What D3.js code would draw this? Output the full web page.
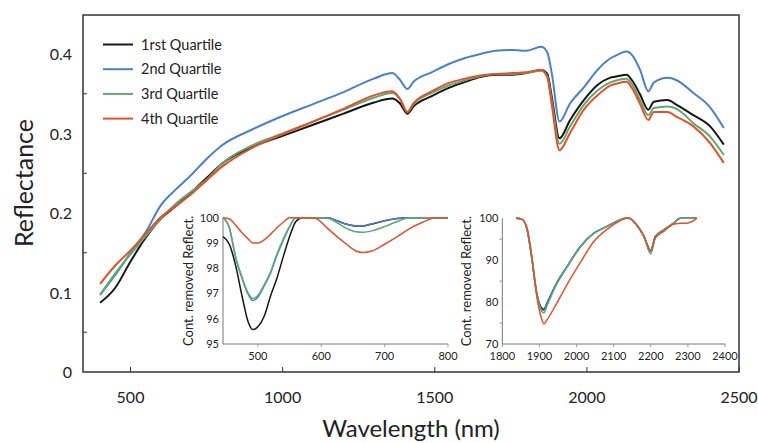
<!DOCTYPE html>
<html>
<head>
<script src="https://d3js.org/d3.v7.min.js"></script>
<style>
  body { margin: 0; background: #fff; }
  text { font-family: Lato, "Noto Sans", sans-serif; fill: #222; }
</style>
</head>
<body>
<script>
// ---- main spectra (reflectance vs wavelength) ----
var wavelengths = [400, 450, 500, 550, 600, 650, 700, 750, 800, 900, 1000, 1100, 1200, 1300, 1360, 1385, 1410, 1430, 1490, 1550, 1600, 1650, 1700, 1760, 1800, 1850, 1870, 1885, 1910, 1945, 1990, 2035, 2075, 2100, 2130, 2150, 2175, 2202, 2220, 2265, 2295, 2350, 2405, 2450];
var q1 = [0.087, 0.106, 0.139, 0.169, 0.193, 0.209, 0.226, 0.244, 0.262, 0.283, 0.297, 0.311, 0.325, 0.339, 0.344, 0.338, 0.325, 0.334, 0.347, 0.358, 0.365, 0.371, 0.374, 0.374, 0.376, 0.380, 0.375, 0.345, 0.294, 0.317, 0.342, 0.361, 0.370, 0.372, 0.374, 0.366, 0.349, 0.330, 0.340, 0.342, 0.336, 0.323, 0.309, 0.286];
var q2 = [0.097, 0.122, 0.150, 0.176, 0.210, 0.230, 0.248, 0.268, 0.285, 0.305, 0.322, 0.337, 0.352, 0.369, 0.376, 0.368, 0.356, 0.365, 0.377, 0.388, 0.395, 0.400, 0.404, 0.405, 0.404, 0.409, 0.402, 0.375, 0.315, 0.338, 0.358, 0.380, 0.394, 0.399, 0.403, 0.398, 0.380, 0.353, 0.364, 0.370, 0.367, 0.351, 0.333, 0.307];
var q3 = [0.097, 0.124, 0.148, 0.171, 0.193, 0.212, 0.227, 0.242, 0.262, 0.285, 0.300, 0.315, 0.330, 0.345, 0.351, 0.344, 0.327, 0.337, 0.351, 0.361, 0.367, 0.372, 0.375, 0.375, 0.376, 0.379, 0.372, 0.340, 0.287, 0.309, 0.336, 0.354, 0.364, 0.367, 0.369, 0.361, 0.342, 0.323, 0.332, 0.334, 0.331, 0.313, 0.296, 0.273];
var q4 = [0.111, 0.134, 0.153, 0.174, 0.195, 0.209, 0.224, 0.241, 0.258, 0.282, 0.299, 0.315, 0.331, 0.348, 0.353, 0.344, 0.327, 0.338, 0.353, 0.364, 0.369, 0.373, 0.375, 0.376, 0.377, 0.380, 0.371, 0.335, 0.279, 0.301, 0.330, 0.348, 0.360, 0.363, 0.365, 0.356, 0.337, 0.317, 0.327, 0.327, 0.321, 0.309, 0.288, 0.263];

var seriesNames = ["1rst Quartile", "2nd Quartile", "3rd Quartile", "4th Quartile"];
var colors = ["#151515", "#4a80c6", "#5fa874", "#e2512a"];
var xTicks = [500, 1000, 1500, 2000, 2500];
var yTicks = [0, 0.1, 0.2, 0.3, 0.4];

// ---- inset 1: visible range ----
var wl1 = [445, 455, 465, 475, 485, 492, 500, 510, 520, 530, 540, 550, 560, 570, 590, 610, 625, 640, 655, 665, 680, 700, 720, 740, 760, 780, 800];
var in1q1 = [99.25, 98.95, 98.1, 96.9, 95.85, 95.57, 95.68, 96.1, 96.9, 97.6, 98.45, 99.25, 99.85, 100, 100, 100, 99.88, 99.74, 99.67, 99.67, 99.75, 99.88, 99.97, 100, 100, 100, 100];
var in1q2 = [100, 99.6, 98.4, 97.6, 96.95, 96.72, 96.85, 97.3, 97.8, 98.5, 99.1, 99.64, 100, 100, 100, 100, 99.88, 99.74, 99.68, 99.68, 99.76, 99.88, 99.97, 100, 100, 100, 100];
var in1q3 = [100, 99.6, 98.45, 97.65, 97.0, 96.8, 96.92, 97.35, 97.85, 98.55, 99.15, 99.66, 100, 100, 100, 99.98, 99.8, 99.58, 99.44, 99.42, 99.48, 99.65, 99.85, 100, 100, 100, 100];
var in1q4 = [100, 99.95, 99.7, 99.4, 99.15, 99.0, 99.0, 99.12, 99.35, 99.6, 99.82, 100, 100, 100, 99.98, 99.58, 99.25, 98.95, 98.68, 98.62, 98.68, 98.95, 99.25, 99.58, 99.82, 100, 100];
var in1xTicks = [500, 600, 700, 800];
var in1yTicks = [95, 96, 97, 98, 99, 100];

// ---- inset 2: SWIR range ----
var wl2 = [1837, 1852, 1866, 1879, 1893, 1906, 1912, 1920, 1946, 1974, 2010, 2046, 2081, 2117, 2133, 2141, 2162, 2180, 2200, 2212, 2234, 2261, 2279, 2300, 2324];
var in2q1 = [100, 99.8, 97.6, 90.8, 82.1, 78.6, 78.3, 79.7, 84.5, 88.4, 93.2, 96.4, 98.0, 99.6, 100, 100, 98.4, 96.0, 92.3, 95.6, 97.2, 98.8, 100, 100, 100];
var in2q2 = [100, 99.8, 97.6, 90.8, 82.0, 78.2, 78.0, 79.5, 84.4, 88.4, 93.2, 96.4, 98.0, 99.6, 100, 100, 98.4, 96.0, 92.0, 95.5, 97.2, 98.8, 100, 100, 100];
var in2q3 = [100, 99.8, 97.6, 90.7, 81.8, 77.8, 77.4, 79.0, 84.2, 88.3, 93.1, 96.4, 98.0, 99.6, 100, 100, 98.4, 95.9, 91.5, 95.3, 97.1, 98.8, 100, 100, 100];
var in2q4 = [100, 99.8, 97.9, 91.3, 81.3, 76.0, 74.8, 75.7, 79.6, 84.1, 89.4, 94.4, 97.3, 99.4, 100, 100, 98.4, 96.0, 92.4, 95.3, 96.8, 98.6, 98.8, 98.9, 100];
var in2xTicks = [1800, 1900, 2000, 2100, 2200, 2300, 2400];
var in2yTicks = [70, 80, 90, 100];

var W = 758, H = 443;
var svg = d3.select("body").append("svg").attr("width", W).attr("height", H);

function zipSeries(xs, arrs) {
  return arrs.map(function(a) { return xs.map(function(x, i) { return [x, a[i]]; }); });
}

// main plot area (don't use "top" - clashes with window.top)
var plotL = 83, plotR = 739, plotT = 15, plotB = 372;
var x = d3.scaleLinear().domain([500, 2500]).range([130.5, 739]);
var y = d3.scaleLinear().domain([0, 0.45]).range([plotB, plotB - 0.45 * 795]);

svg.append("rect")
  .attr("x", plotL).attr("y", plotT)
  .attr("width", plotR - plotL).attr("height", plotB - plotT)
  .attr("fill", "none").attr("stroke", "#333").attr("stroke-width", 1.5);

// x ticks (inward) and labels
svg.selectAll(".xt").data(xTicks).enter().append("line")
  .attr("x1", function(d) { return x(d); }).attr("x2", function(d) { return x(d); })
  .attr("y1", plotB).attr("y2", plotB - 5)
  .attr("stroke", "#333").attr("stroke-width", 1);
svg.selectAll(".xl").data(xTicks).enter().append("text")
  .attr("x", function(d) { return x(d); }).attr("y", 403)
  .attr("text-anchor", "middle").attr("font-size", 16)
  .text(function(d) { return d; });

// y labels and minor ticks between them
svg.selectAll(".yl").data(yTicks).enter().append("text")
  .attr("x", 72).attr("y", function(d) { return y(d) + 6; })
  .attr("text-anchor", "end").attr("font-size", 16)
  .text(function(d) { return d === 0 ? "0" : d3.format(".1f")(d); });
svg.selectAll(".yt").data(yTicks.slice(0, 4)).enter().append("line")
  .attr("x1", plotL).attr("x2", plotL + 4)
  .attr("y1", function(d) { return y(d + 0.05); }).attr("y2", function(d) { return y(d + 0.05); })
  .attr("stroke", "#333").attr("stroke-width", 1);

svg.append("text")
  .attr("transform", "translate(33,183) rotate(-90)")
  .attr("text-anchor", "middle").attr("font-size", 25)
  .text("Reflectance");
svg.append("text")
  .attr("x", 411).attr("y", 437)
  .attr("text-anchor", "middle").attr("font-size", 24)
  .text("Wavelength (nm)");

var line = d3.line()
  .x(function(d) { return x(d[0]); })
  .y(function(d) { return y(d[1]); })
  .curve(d3.curveMonotoneX);

svg.selectAll(".main").data(zipSeries(wavelengths, [q1, q2, q3, q4])).enter().append("path")
  .attr("d", line)
  .attr("fill", "none")
  .attr("stroke", function(d, i) { return colors[i]; })
  .attr("stroke-width", 2);

// legend
var leg = svg.selectAll(".leg").data(seriesNames).enter().append("g")
  .attr("transform", function(d, i) { return "translate(103," + (44.5 + i * 24.7) + ")"; });
leg.append("line").attr("x1", 0).attr("x2", 30).attr("y1", 0).attr("y2", 0)
  .attr("stroke", function(d, i) { return colors[i]; }).attr("stroke-width", 2);
leg.append("text").attr("x", 38).attr("y", 5).attr("font-size", 14.5)
  .text(function(d) { return d; });

// insets
function inset(cfg) {
  var ix = d3.scaleLinear().domain(cfg.xd).range(cfg.xr);
  var iy = d3.scaleLinear().domain(cfg.yd).range(cfg.yr);
  var g = svg.append("g");
  g.append("line").attr("x1", cfg.xr[0]).attr("x2", cfg.xr[0])
    .attr("y1", iy(cfg.yd[0])).attr("y2", iy(cfg.yd[1]))
    .attr("stroke", "#777").attr("stroke-width", 1);
  g.append("line").attr("x1", cfg.xr[0]).attr("x2", cfg.xr[1])
    .attr("y1", iy(cfg.yd[0])).attr("y2", iy(cfg.yd[0]))
    .attr("stroke", "#777").attr("stroke-width", 1);
  g.selectAll(".ixl").data(cfg.xt).enter().append("text")
    .attr("x", function(d) { return ix(d); }).attr("y", iy(cfg.yd[0]) + 16)
    .attr("text-anchor", "middle").attr("font-size", 11).attr("fill", "#333")
    .text(function(d) { return d; });
  g.selectAll(".ixt").data(cfg.xt).enter().append("line")
    .attr("x1", function(d) { return ix(d); }).attr("x2", function(d) { return ix(d); })
    .attr("y1", iy(cfg.yd[0])).attr("y2", iy(cfg.yd[0]) + 3)
    .attr("stroke", "#999");
  g.selectAll(".iyl").data(cfg.yt).enter().append("text")
    .attr("x", cfg.xr[0] - 4).attr("y", function(d) { return iy(d) + 4; })
    .attr("text-anchor", "end").attr("font-size", 11).attr("fill", "#333")
    .text(function(d) { return d; });
  g.selectAll(".iyt").data(cfg.mt).enter().append("line")
    .attr("x1", cfg.xr[0] - 3).attr("x2", cfg.xr[0])
    .attr("y1", function(d) { return iy(d); }).attr("y2", function(d) { return iy(d); })
    .attr("stroke", "#999");
  g.append("text")
    .attr("transform", "translate(" + cfg.tx + "," + ((iy(cfg.yd[0]) + iy(cfg.yd[1])) / 2) + ") rotate(-90)")
    .attr("text-anchor", "middle").attr("font-size", 13).attr("fill", "#333")
    .text("Cont. removed Reflect.");
  var il = d3.line()
    .x(function(d) { return ix(d[0]); })
    .y(function(d) { return iy(d[1]); })
    .curve(d3.curveMonotoneX);
  g.selectAll(".il").data(cfg.series).enter().append("path")
    .attr("d", il).attr("fill", "none")
    .attr("stroke", function(d, i) { return colors[i]; })
    .attr("stroke-width", 1.5);
}

inset({
  xd: [445, 800], xr: [223, 448], yd: [95, 100], yr: [344, 217.7],
  xt: in1xTicks, yt: in1yTicks, mt: [], tx: 193,
  series: zipSeries(wl1, [in1q1, in1q2, in1q3, in1q4])
});
inset({
  xd: [1800, 2400], xr: [502.3, 725], yd: [70, 100], yr: [344, 218.3],
  xt: in2xTicks, yt: in2yTicks, mt: [75, 85, 95], tx: 471,
  series: zipSeries(wl2, [in2q1, in2q2, in2q3, in2q4])
});
</script>
</body>
</html>
